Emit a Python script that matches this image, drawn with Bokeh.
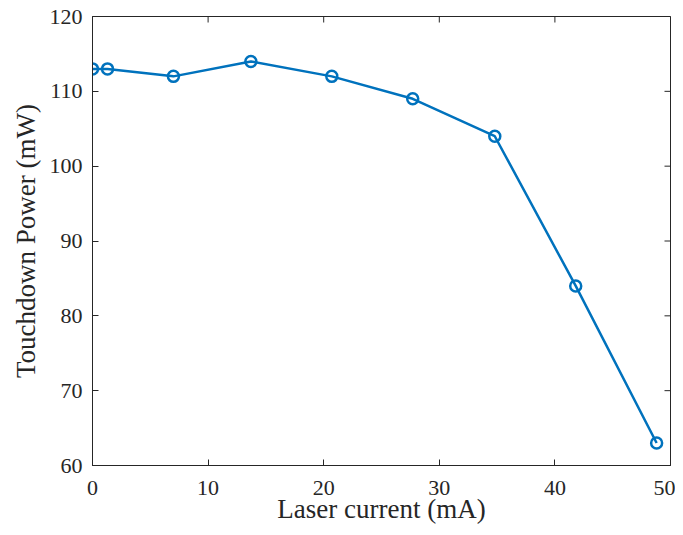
import math
from bokeh.plotting import figure
from bokeh.models import FixedTicker, Range1d
from bokeh.embed import file_html
from bokeh.resources import INLINE

current_mA = [0.0, 1.3, 7.0, 13.7, 20.7, 27.7, 34.8, 41.8, 48.8]
power_mW = [113, 113, 112, 114, 112, 109, 104, 84, 63]
x_ticks = [0, 10, 20, 30, 40, 50]
y_ticks = [60, 70, 80, 90, 100, 110, 120]
x_min, x_max = 0, 50
y_min, y_max = 60, 120

FONT = "Liberation Serif"
TXT = "#262626"
BLUE = "#0072BD"

p = figure(width=675, height=527, output_backend="svg", toolbar_location=None,
           x_range=Range1d(x_min, x_max), y_range=Range1d(y_min, y_max),
           min_border_left=92, min_border_right=5, min_border_top=16, min_border_bottom=62,
           background_fill_color="white", border_fill_color="white")
p.grid.visible = False
p.outline_line_color = TXT
p.outline_line_width = 1

xa = p.below[0]
ya = p.left[0]
xa.ticker = FixedTicker(ticks=x_ticks)
ya.ticker = FixedTicker(ticks=y_ticks)
xa.axis_label = "Laser current (mA)"
ya.axis_label = "Touchdown Power (mW)"

for ax in (xa, ya):
    ax.axis_line_color = TXT
    ax.major_tick_line_color = TXT
    ax.minor_tick_line_color = None
    ax.major_tick_in = 6
    ax.major_tick_out = 0
    ax.major_label_text_font = "'Liberation Serif', 'Times New Roman', serif"
    ax.major_label_text_color = TXT
    ax.major_label_text_font_size = "22px"
    ax.axis_label_text_font = FONT
    ax.axis_label_text_color = TXT
    ax.axis_label_text_font_size = "27px"
    ax.axis_label_text_font_style = "normal"

xa.major_label_standoff = 15
ya.major_label_standoff = 10
xa.axis_label_standoff = -4
ya.axis_label_standoff = 6

p.scatter(x_ticks, [y_max] * len(x_ticks), marker="dash", size=12, angle=math.pi / 2,
          line_color=TXT, line_width=1)
p.scatter([x_max] * len(y_ticks), y_ticks, marker="dash", size=12,
          line_color=TXT, line_width=1)

p.line(current_mA, power_mW, line_color=BLUE, line_width=2.5)
p.scatter(current_mA, power_mW, marker="circle", size=11, fill_color=None,
          line_color=BLUE, line_width=2.5)

open("out.html", "w").write(file_html(p, INLINE))
